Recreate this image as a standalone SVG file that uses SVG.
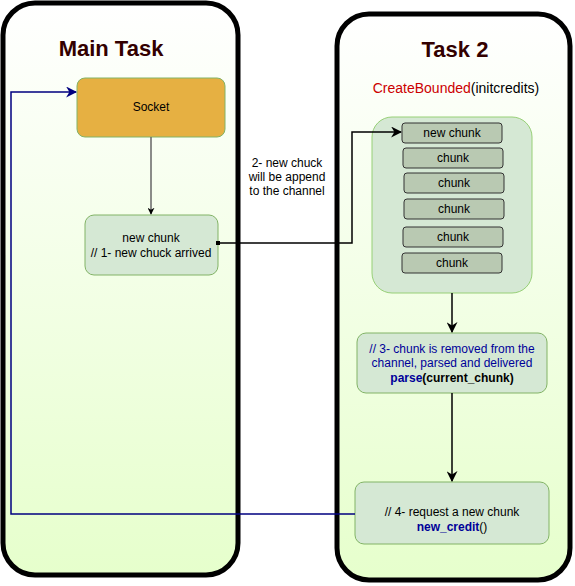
<svg xmlns="http://www.w3.org/2000/svg" width="575" height="586" viewBox="0 0 575 586">
<defs>
<linearGradient id="bg" x1="0" y1="0" x2="0" y2="1">
<stop offset="0" stop-color="#ffffff"/>
<stop offset="1" stop-color="#e6ffcc"/>
</linearGradient>
<marker id="ab" viewBox="0 0 10 10" refX="9" refY="5" markerWidth="7" markerHeight="7" orient="auto" markerUnits="userSpaceOnUse">
<path d="M0,0 L10,5 L0,10 L3,5 Z" fill="#000"/>
</marker>
<marker id="abig" viewBox="0 0 10 10" refX="9" refY="5" markerWidth="11" markerHeight="11" orient="auto" markerUnits="userSpaceOnUse">
<path d="M0,0 L10,5 L0,10 L3,5 Z" fill="#000"/>
</marker>
<marker id="anavy" viewBox="0 0 10 10" refX="9" refY="5" markerWidth="11" markerHeight="11" orient="auto" markerUnits="userSpaceOnUse">
<path d="M0,0 L10,5 L0,10 L3,5 Z" fill="#000080"/>
</marker>
<marker id="sq" viewBox="0 0 4 4" refX="2" refY="2" markerWidth="4" markerHeight="4" markerUnits="userSpaceOnUse">
<rect width="4" height="4" fill="#000"/>
</marker>
</defs>
<style>
text{font-family:"Liberation Sans",Arial,sans-serif;font-size:12px;text-anchor:middle}
.title{font-size:22px;font-weight:bold;fill:#330000}
.cont{fill:url(#bg);stroke:#000;stroke-width:5}
.node{fill:#d5e8d4;stroke:#82b366;stroke-width:1}
.chunk{fill:#b9c9b2;stroke:#333;stroke-width:1}
.blue{fill:#000099}
</style>
<g id="main-task">
<rect class="cont" x="3" y="3" width="235" height="572" rx="32"/>
<text class="title" x="111" y="56">Main Task</text>
</g>
<g id="task2">
<rect class="cont" x="337" y="14" width="233" height="566" rx="32"/>
<text class="title" x="455" y="57">Task 2</text>
<text x="456" y="93" style="font-size:14px"><tspan fill="#cc0000">CreateBounded</tspan>(initcredits)</text>
</g>
<g id="channel">
<rect x="372" y="117" width="160" height="176" rx="20" fill="#d5e8d4" stroke="#97d077"/>
</g>
<g id="chunk-new"><rect class="chunk" x="402" y="123" width="100" height="20" rx="3"/><text x="452" y="137">new chunk</text></g>
<g id="chunk-1"><rect class="chunk" x="403" y="148" width="100" height="20" rx="3"/><text x="453" y="162">chunk</text></g>
<g id="chunk-2"><rect class="chunk" x="404" y="173" width="100" height="20" rx="3"/><text x="454" y="187">chunk</text></g>
<g id="chunk-3"><rect class="chunk" x="404" y="199" width="100" height="20" rx="3"/><text x="454" y="213">chunk</text></g>
<g id="chunk-4"><rect class="chunk" x="403" y="227" width="100" height="20" rx="3"/><text x="453" y="241">chunk</text></g>
<g id="chunk-5"><rect class="chunk" x="402" y="253" width="100" height="20" rx="3"/><text x="452" y="267">chunk</text></g>
<g id="socket">
<rect x="77" y="78" width="148" height="59" rx="8" fill="#e6b042" stroke="#82b366"/>
<text x="151" y="111">Socket</text>
</g>
<g id="new-chunk-node">
<rect class="node" x="85" y="215" width="133" height="60" rx="9"/>
<text x="151" y="242">new chunk</text>
<text x="151" y="257">// 1- new chuck arrived</text>
</g>
<g id="parse-node">
<rect class="node" x="357" y="333" width="190" height="60" rx="9"/>
<text class="blue" x="452" y="353">// 3- chunk is removed from the</text>
<text class="blue" x="452" y="367">channel, parsed and delivered</text>
<text x="452" y="382" font-weight="bold"><tspan fill="#000099">parse</tspan>(current_chunk)</text>
</g>
<g id="credit-node">
<rect class="node" x="355" y="482" width="194" height="62" rx="9"/>
<text x="452" y="516">// 4- request a new chunk</text>
<text x="452" y="531"><tspan fill="#000099" font-weight="bold">new_credit</tspan>()</text>
</g>
<g id="connectors" fill="none">
<path d="M151,137 V214" stroke="#666" stroke-width="1.5" marker-end="url(#ab)"/>
<path d="M218,243 H352 V132 H401" stroke="#000" stroke-width="1.5" marker-start="url(#sq)" marker-end="url(#abig)"/>
<path d="M452,293 V332" stroke="#000" stroke-width="1.5" marker-end="url(#abig)"/>
<path d="M452,393 V481" stroke="#000" stroke-width="1.5" marker-end="url(#abig)"/>
<path d="M355,514 H11 V92 H76" stroke="#000080" stroke-width="1.5" marker-end="url(#anavy)"/>
<text x="287" y="167" fill="#000" stroke="none">2- new chuck</text>
<text x="287" y="181" fill="#000" stroke="none">will be append</text>
<text x="287" y="195" fill="#000" stroke="none">to the channel</text>
</g>
</svg>
